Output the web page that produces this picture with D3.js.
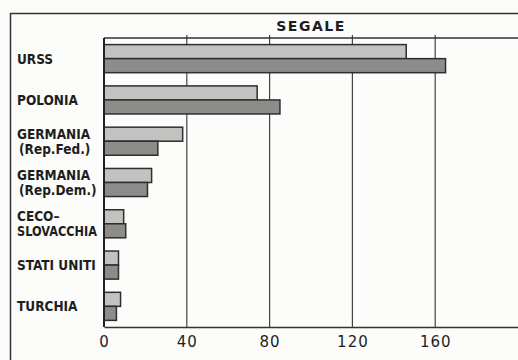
<!DOCTYPE html>
<html>
<head>
<meta charset="utf-8">
<script src="https://cdn.jsdelivr.net/npm/d3@7"></script>
<style>
body { margin: 0; background: #fcfcfa; }
svg { display: block; }
.lbl { font-family: "DejaVu Sans Condensed", "DejaVu Sans", sans-serif; font-weight: bold; font-size: 13.5px; fill: #1e1e1e; }
.tick text { font-family: "DejaVu Sans", sans-serif; font-size: 15px; fill: #1e1e1e; letter-spacing: 1px; }
</style>
</head>
<body>
<svg id="chart" width="518" height="360"></svg>
<script>
// countries, one entry per row (label lines)
var countries = ["URSS", "POLONIA", "GERMANIA (Rep.Fed.)", "GERMANIA (Rep.Dem.)", "CECO- SLOVACCHIA", "STATI UNITI", "TURCHIA"];
var labelLines = [["URSS"], ["POLONIA"], ["GERMANIA", "(Rep.Fed.)"], ["GERMANIA", "(Rep.Dem.)"], ["CECO\u2013", "SLOVACCHIA"], ["STATI UNITI"], ["TURCHIA"]];
var lightValues = [146, 74, 38, 23, 9.5, 7, 8];
var darkValues  = [165, 85, 26, 21, 10.5, 7, 6];
var xTicks = [0, 40, 80, 120, 160];
var title = "SEGALE";

var svg = d3.select("#chart");
var W = +svg.attr("width"), H = +svg.attr("height");

var m = {left: 104, right: 0, top: 38, bottom: 33};
var x = d3.scaleLinear().domain([0, 200]).range([m.left, W - m.right]);
var y = d3.scaleBand().domain(countries).range([m.top, H - m.bottom])
    .paddingInner(0.32).paddingOuter(0.16);

// outer frame
svg.append("line").attr("x1", 10.5).attr("x2", W).attr("y1", 13.5).attr("y2", 13.5)
    .attr("stroke", "#333").attr("stroke-width", 1.5);
svg.append("line").attr("x1", 10.5).attr("x2", 10.5).attr("y1", 13).attr("y2", H)
    .attr("stroke", "#333").attr("stroke-width", 1.5);

// title
svg.append("text").attr("x", 311).attr("y", 31).attr("text-anchor", "middle")
    .attr("class", "lbl").style("font-size", "14px").style("letter-spacing", "1.5px")
    .style("font-family", "'DejaVu Sans', sans-serif")
    .text(title);

// gridlines
svg.append("g").selectAll("line").data(xTicks.slice(1)).join("line")
    .attr("x1", d => x(d)).attr("x2", d => x(d))
    .attr("y1", m.top - 3).attr("y2", H - m.bottom)
    .attr("stroke", "#444").attr("stroke-width", 1.2);

// plot top line
svg.append("line").attr("x1", m.left).attr("x2", W).attr("y1", m.top).attr("y2", m.top)
    .attr("stroke", "#333").attr("stroke-width", 1.5);

// bars
var bh = y.bandwidth() / 2;
svg.append("g").selectAll("rect").data(countries).join("rect")
    .attr("x", x(0)).attr("y", d => y(d))
    .attr("width", (d, i) => x(lightValues[i]) - x(0)).attr("height", bh)
    .attr("fill", "#c2c2c0").attr("stroke", "#2e2e2e").attr("stroke-width", 1.5);
svg.append("g").selectAll("rect").data(countries).join("rect")
    .attr("x", x(0)).attr("y", d => y(d) + bh)
    .attr("width", (d, i) => x(darkValues[i]) - x(0)).attr("height", bh)
    .attr("fill", "#8c8c8a").attr("stroke", "#2e2e2e").attr("stroke-width", 1.5);

// axes
svg.append("g").attr("transform", "translate(0," + (H - m.bottom) + ")")
    .call(d3.axisBottom(x).tickValues(xTicks).tickSize(0).tickPadding(9))
    .call(g => g.select(".domain").attr("stroke", "#333").attr("stroke-width", 1.5));
svg.append("line").attr("x1", m.left).attr("x2", m.left).attr("y1", m.top).attr("y2", H - m.bottom)
    .attr("stroke", "#222").attr("stroke-width", 2);

// country labels
var lab = svg.append("g").selectAll("text").data(countries).join("text")
    .attr("class", "lbl")
    .attr("x", 17)
    .attr("y", (d, i) => y(d) + y.bandwidth() / 2 - (labelLines[i].length - 1) * 7.5 + 5);
lab.selectAll("tspan").data((d, i) => labelLines[i]).join("tspan")
    .attr("x", (d, j) => d.startsWith("(") ? 19 : 17)
    .attr("dy", (d, j) => j === 0 ? 0 : 15)
    .text(d => d)
    .each(function() {
        // squeeze lines that would run into the plot
        if (this.getComputedTextLength() > 80) {
            d3.select(this).attr("textLength", 80).attr("lengthAdjust", "spacingAndGlyphs");
        }
    });
</script>
</body>
</html>
